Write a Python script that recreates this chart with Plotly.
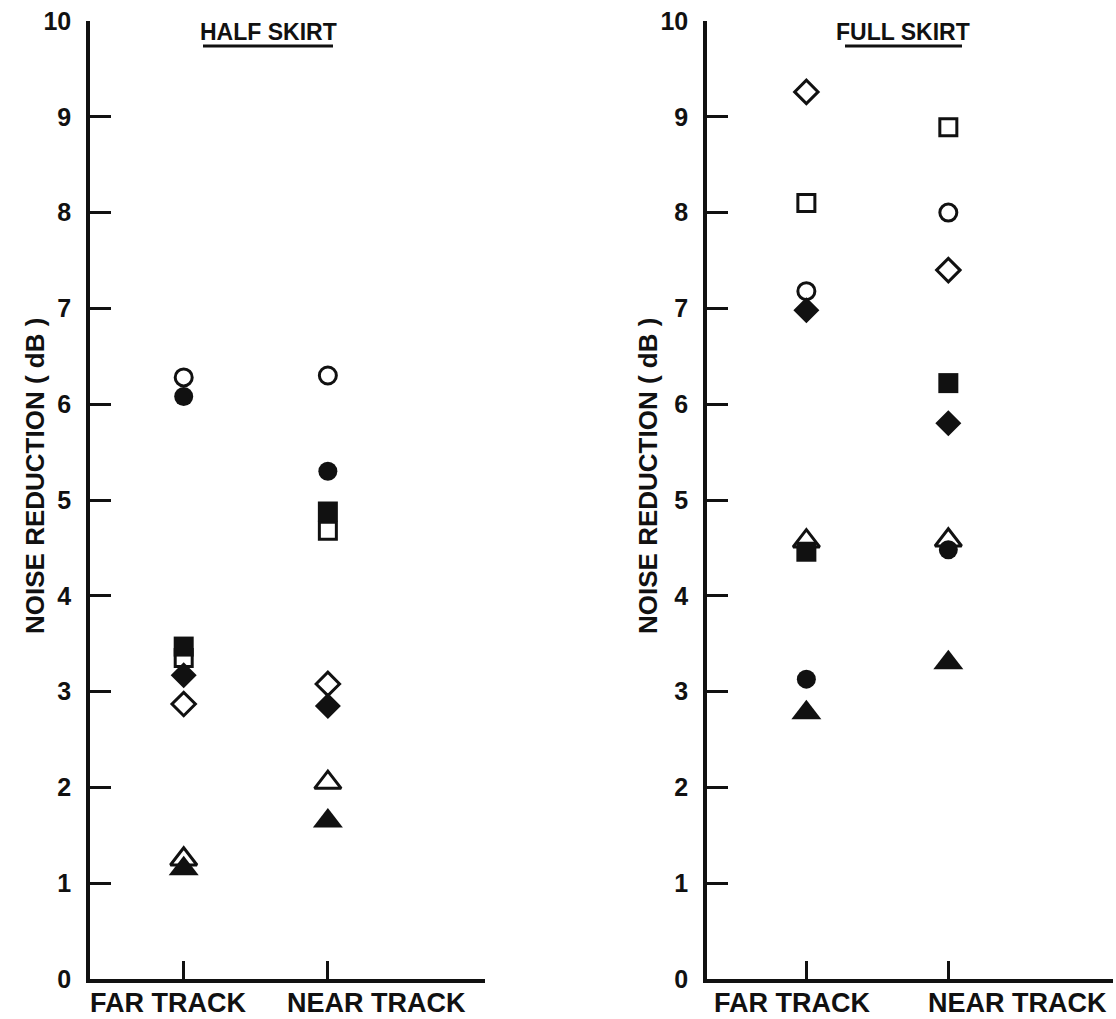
import plotly.graph_objects as go

# Noise reduction (dB) measured at the far and near track for each configuration
track_pos = [1, 2]
track_labels = ["FAR TRACK", "NEAR TRACK"]
y_ticks = list(range(0, 11))

# Half skirt: [far, near]
half_open_circle = [6.28, 6.30]
half_filled_circle = [6.08, 5.30]
half_open_square = [3.35, 4.68]
half_filled_square = [3.47, 4.88]
half_open_diamond = [2.87, 3.08]
half_filled_diamond = [3.17, 2.85]
half_open_triangle = [1.25, 2.05]
half_filled_triangle = [1.15, 1.65]

# Full skirt: [far, near]
full_open_circle = [7.18, 8.00]
full_filled_circle = [3.13, 4.48]
full_open_square = [8.10, 8.89]
full_filled_square = [4.46, 6.22]
full_open_diamond = [9.26, 7.40]
full_filled_diamond = [6.98, 5.80]
full_open_triangle = [4.57, 4.58]
full_filled_triangle = [2.78, 3.30]

INK = "#111111"
FONT = "Liberation Sans, Arial, sans-serif"

fig = go.Figure()

series = [
    # (half values, full values, symbol, size, open?)
    (half_open_circle, full_open_circle, "circle", 17, True),
    (half_open_square, full_open_square, "square", 17, True),
    (half_open_diamond, full_open_diamond, "diamond", 18, True),
    (half_open_triangle, full_open_triangle, "triangle-up", 23, True),
    (half_filled_circle, full_filled_circle, "circle", 19, False),
    (half_filled_square, full_filled_square, "square", 20, False),
    (half_filled_diamond, full_filled_diamond, "diamond", 20, False),
    (half_filled_triangle, full_filled_triangle, "triangle-up", 26, False),
]

for half_vals, full_vals, sym, size, is_open in series:
    marker = dict(
        symbol=sym,
        size=size,
        color="white" if is_open else INK,
        line=dict(color=INK, width=3 if is_open else 0),
    )
    fig.add_trace(go.Scatter(x=track_pos, y=half_vals, mode="markers",
                             marker=marker, xaxis="x", yaxis="y",
                             showlegend=False, hoverinfo="y"))
    fig.add_trace(go.Scatter(x=track_pos, y=full_vals, mode="markers",
                             marker=marker, xaxis="x2", yaxis="y2",
                             showlegend=False, hoverinfo="y"))

W, H = 1116, 1019


def px_x(v):
    return v / W


def px_y(v):
    return 1 - v / H


y_dom = [px_y(979), px_y(21)]

xaxis_common = dict(
    tickvals=track_pos, ticktext=["", ""], ticks="inside", ticklen=18,
    tickwidth=2.5, tickcolor=INK, showline=True, linecolor=INK, linewidth=3.5,
    showgrid=False, zeroline=False, fixedrange=True, automargin=False,
)
yaxis_common = dict(
    range=[0, 10], tickvals=y_ticks, ticks="inside", ticklen=21,
    tickwidth=3, tickcolor=INK, showline=True, linecolor=INK, linewidth=3.5,
    showgrid=False, zeroline=False, domain=y_dom, fixedrange=True,
    tickfont=dict(family=FONT, size=25, color=INK, weight="bold"),
    ticklabelstandoff=10, automargin=False,
)

fig.update_layout(
    width=W, height=H,
    margin=dict(l=0, r=0, t=0, b=0),
    paper_bgcolor="white", plot_bgcolor="white",
    xaxis=dict(xaxis_common, domain=[px_x(90), px_x(485)], range=[0.35, 3.09], anchor="y"),
    yaxis=dict(yaxis_common, anchor="x"),
    xaxis2=dict(xaxis_common, domain=[px_x(707), px_x(1113)], range=[0.30, 3.16], anchor="y2"),
    yaxis2=dict(yaxis_common, anchor="x2"),
)

label_font = dict(family=FONT, size=27, color=INK, weight="bold")
annotations = []

# category labels under each track
for cx, txt in [(168, track_labels[0]), (376, track_labels[1]),
                (792, track_labels[0]), (1017, track_labels[1])]:
    annotations.append(dict(x=px_x(cx), y=px_y(1003), xref="paper", yref="paper",
                            text=txt, showarrow=False, font=label_font,
                            xanchor="center", yanchor="middle"))

# panel titles
for cx, txt in [(268, "HALF SKIRT"), (903, "FULL SKIRT")]:
    annotations.append(dict(x=px_x(cx), y=px_y(32), xref="paper", yref="paper",
                            text=txt, showarrow=False,
                            font=dict(family=FONT, size=23, color=INK, weight="bold"),
                            xanchor="center", yanchor="middle"))

# rotated axis titles
for cx in [35, 648]:
    annotations.append(dict(x=px_x(cx), y=px_y(476), xref="paper", yref="paper",
                            text="NOISE REDUCTION ( dB )", showarrow=False,
                            textangle=-90,
                            font=dict(family=FONT, size=26, color=INK, weight="bold"),
                            xanchor="center", yanchor="middle"))

fig.update_layout(annotations=annotations)

# title underlines
shapes = []
for x0, x1 in [(203, 333), (845, 962)]:
    shapes.append(dict(type="line", xref="paper", yref="paper",
                       x0=px_x(x0), x1=px_x(x1), y0=px_y(46), y1=px_y(46),
                       line=dict(color=INK, width=3)))
fig.update_layout(shapes=shapes)

fig.write_html("out.html")
